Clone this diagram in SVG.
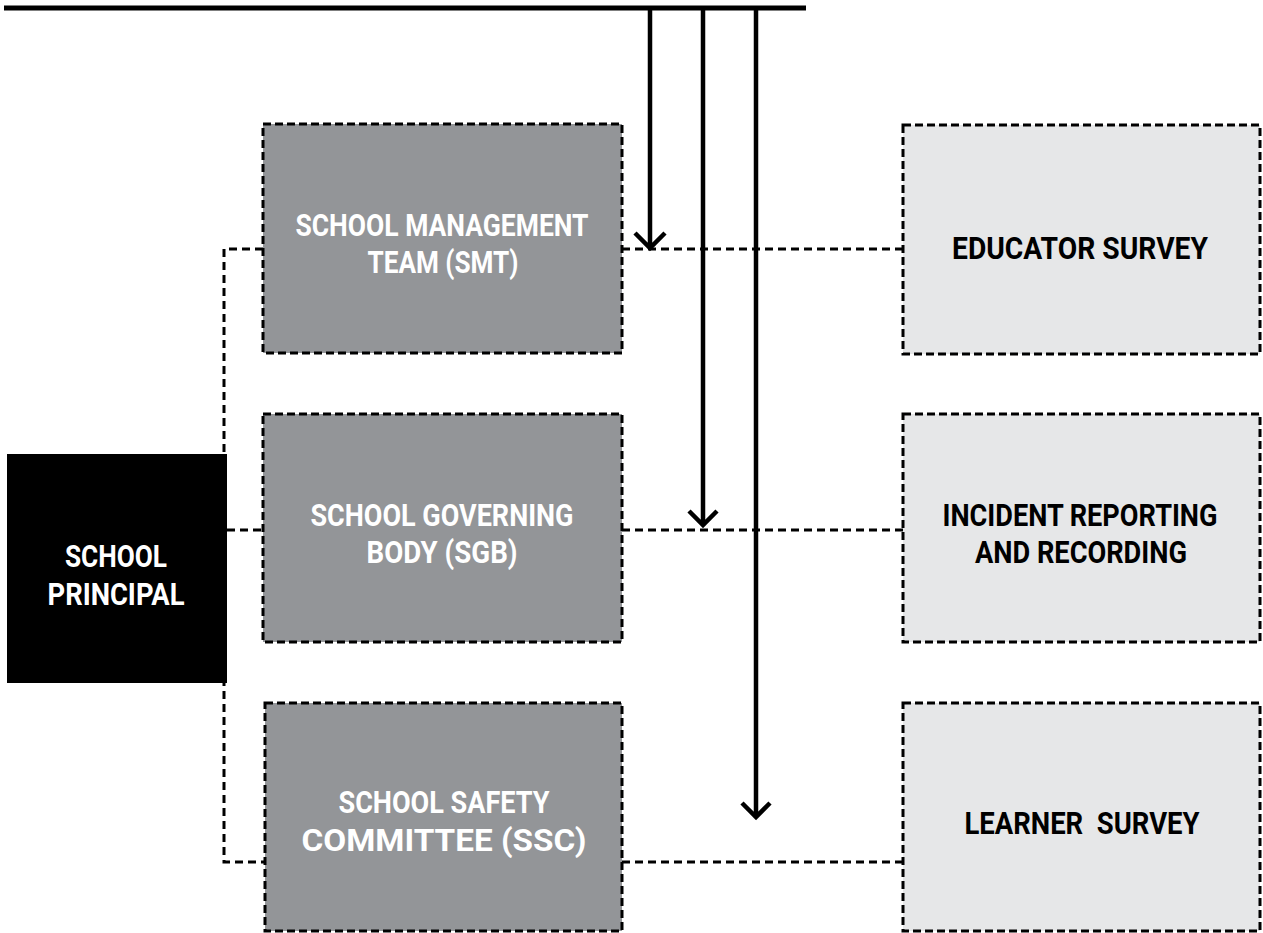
<svg xmlns="http://www.w3.org/2000/svg" width="1263" height="933" viewBox="0 0 1263 933">
<style>
.box{stroke:#000;stroke-width:3;stroke-dasharray:8 4}
.dark{fill:#939598}
.light{fill:#e6e7e8}
.conn{fill:none;stroke:#000;stroke-width:3;stroke-dasharray:8 5}
.arrow{fill:none;stroke:#000;stroke-width:4.5}
.t{font-family:Roboto,"Liberation Sans",sans-serif;font-weight:bold;font-size:31px;text-anchor:middle;white-space:pre}
.w{fill:#fff}
.k{fill:#000}
</style>
<g id="connectors">
<path class="conn" d="M263,249 H224 V862 H265"/>
<path class="conn" d="M227,530 H263"/>
<path class="conn" d="M622,249 H903"/>
<path class="conn" d="M622,530 H903"/>
<path class="conn" d="M622,862 H903"/>
<line x1="4" y1="8" x2="806" y2="8" stroke="#000" stroke-width="5"/>
<path class="arrow" d="M650,10 V247 M635,233 L650,248 L665,233"/>
<path class="arrow" d="M703,10 V523 M689,511 L703,525 L717,511"/>
<path class="arrow" d="M756,10 V816 M742,803 L756,817 L770,803"/>
</g>
<g id="principal">
<rect x="7" y="454" width="220" height="229" fill="#000"/>
<text class="t w" x="116" y="567" textLength="102" lengthAdjust="spacingAndGlyphs">SCHOOL</text>
<text class="t w" x="116" y="605" textLength="137" lengthAdjust="spacingAndGlyphs">PRINCIPAL</text>
</g>
<g id="smt">
<rect class="box dark" x="263" y="124" width="359" height="229"/>
<text class="t w" x="442" y="236" textLength="293" lengthAdjust="spacingAndGlyphs">SCHOOL MANAGEMENT</text>
<text class="t w" x="443" y="273" textLength="151" lengthAdjust="spacingAndGlyphs">TEAM (SMT)</text>
</g>
<g id="sgb">
<rect class="box dark" x="263" y="414" width="359" height="228"/>
<text class="t w" x="442" y="526" textLength="263" lengthAdjust="spacingAndGlyphs">SCHOOL GOVERNING</text>
<text class="t w" x="442" y="563" textLength="151" lengthAdjust="spacingAndGlyphs">BODY (SGB)</text>
</g>
<g id="ssc">
<rect class="box dark" x="265" y="703" width="357" height="228"/>
<text class="t w" x="444" y="813" textLength="211" lengthAdjust="spacingAndGlyphs">SCHOOL SAFETY</text>
<text class="t w" x="444" y="851" textLength="285" lengthAdjust="spacingAndGlyphs">COMMITTEE (SSC)</text>
</g>
<g id="educator">
<rect class="box light" x="903" y="125" width="357" height="229"/>
<text class="t k" x="1080" y="259" textLength="256" lengthAdjust="spacingAndGlyphs">EDUCATOR SURVEY</text>
</g>
<g id="incident">
<rect class="box light" x="903" y="414" width="357" height="228"/>
<text class="t k" x="1080" y="526" textLength="275" lengthAdjust="spacingAndGlyphs">INCIDENT REPORTING</text>
<text class="t k" x="1081" y="563" textLength="212" lengthAdjust="spacingAndGlyphs">AND RECORDING</text>
</g>
<g id="learner">
<rect class="box light" x="903" y="703" width="357" height="228"/>
<text class="t k" x="1082" y="834" textLength="235" lengthAdjust="spacingAndGlyphs">LEARNER  SURVEY</text>
</g>
</svg>
